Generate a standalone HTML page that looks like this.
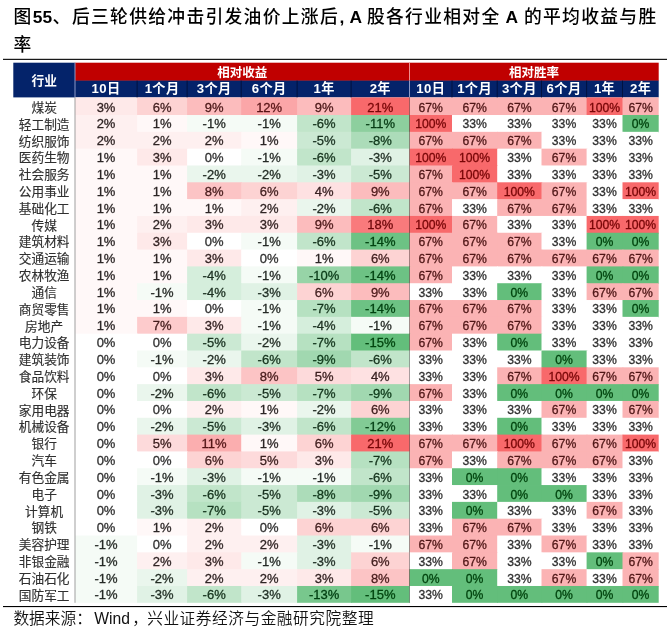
<!DOCTYPE html>
<html lang="zh"><head><meta charset="utf-8"><title>图55</title>
<style>
html,body{margin:0;padding:0;background:#fff;}
body{width:671px;height:631px;overflow:hidden;}
svg{display:block;font-family:"Liberation Sans","Noto Sans CJK SC",sans-serif;}
.t{font-size:17.8px;font-weight:500;fill:#000;}
.tb{font-size:17.4px;font-weight:bold;fill:#000;}
.c{font-size:12.2px;fill:#303030;stroke:#303030;stroke-width:0.3px;text-anchor:middle;}
.c.l{font-size:13px;}
.n{font-size:12.7px;fill:#303030;stroke:#303030;stroke-width:0.15px;text-anchor:middle;}
.h{font-size:12.5px;font-weight:bold;fill:#fff;text-anchor:middle;}
.s{font-size:15.7px;font-weight:350;fill:#111;}
</style></head><body>
<svg width="671" height="631" viewBox="0 0 671 631">
<rect x="0" y="0" width="671" height="631" fill="#fff"/>
<text class="t" x="13.6" y="22.6">图</text>
<text class="tb" x="32.8" y="22.6">55</text>
<text class="t" x="52.5" y="22.6">、</text>
<text class="t" x="71.9" y="22.6" letter-spacing="1.3">后三轮供给冲击引发油价上涨后</text>
<text class="tb" x="339.5" y="22.6">,</text>
<text class="tb" x="349.6" y="22.6">A</text>
<text class="t" x="366.9" y="22.6" letter-spacing="1.3">股各行业相对全</text>
<text class="tb" x="505.6" y="22.6">A</text>
<text class="t" x="523.9" y="22.6" letter-spacing="1.3">的平均收益与胜</text>
<text class="t" x="13.6" y="50.6">率</text>
<rect x="3" y="58.8" width="664" height="1.1" fill="#000"/>
<rect x="3" y="606" width="664" height="1.1" fill="#000"/>
<rect x="13.3" y="62.7" width="61.70" height="34.70" fill="#04236a"/>
<rect x="75" y="62.7" width="583.70" height="18.20" fill="#c00000"/>
<rect x="75" y="80.6" width="583.70" height="16.80" fill="#04236a"/>
<rect x="75" y="97.40" width="62.90" height="18.42" fill="#fee9e9"/>
<rect x="137.1" y="97.40" width="50.80" height="18.42" fill="#fdd3d3"/>
<rect x="187.1" y="97.40" width="54.90" height="18.42" fill="#fcbcbd"/>
<rect x="241.2" y="97.40" width="56.70" height="18.42" fill="#fba6a8"/>
<rect x="297.1" y="97.40" width="54.80" height="18.42" fill="#fcbcbd"/>
<rect x="351.1" y="97.40" width="59.20" height="18.42" fill="#f8696b"/>
<rect x="409.5" y="97.40" width="43.30" height="18.42" fill="#fbb3b4"/>
<rect x="452" y="97.40" width="46.00" height="18.42" fill="#fbb3b4"/>
<rect x="497.2" y="97.40" width="45.10" height="18.42" fill="#fbb3b4"/>
<rect x="541.5" y="97.40" width="45.90" height="18.42" fill="#fbb3b4"/>
<rect x="586.6" y="97.40" width="36.70" height="18.42" fill="#f8696b"/>
<rect x="622.5" y="97.40" width="36.20" height="18.42" fill="#fbb3b4"/>
<rect x="75" y="115.02" width="62.90" height="17.62" fill="#fef0f0"/>
<rect x="137.1" y="115.02" width="50.80" height="17.62" fill="#fff8f8"/>
<rect x="187.1" y="115.02" width="54.90" height="17.62" fill="#f5fbf6"/>
<rect x="241.2" y="115.02" width="56.70" height="17.62" fill="#f5fbf6"/>
<rect x="297.1" y="115.02" width="54.80" height="17.62" fill="#c1e5ca"/>
<rect x="351.1" y="115.02" width="59.20" height="17.62" fill="#8dcf9e"/>
<rect x="409.5" y="115.02" width="43.30" height="17.62" fill="#f8696b"/>
<rect x="452" y="115.02" width="46.00" height="17.62" fill="#ffffff"/>
<rect x="497.2" y="115.02" width="45.10" height="17.62" fill="#ffffff"/>
<rect x="541.5" y="115.02" width="45.90" height="17.62" fill="#ffffff"/>
<rect x="586.6" y="115.02" width="36.70" height="17.62" fill="#ffffff"/>
<rect x="622.5" y="115.02" width="36.20" height="17.62" fill="#63be7b"/>
<rect x="75" y="131.84" width="62.90" height="17.62" fill="#fef0f0"/>
<rect x="137.1" y="131.84" width="50.80" height="17.62" fill="#fef0f0"/>
<rect x="187.1" y="131.84" width="54.90" height="17.62" fill="#fef0f0"/>
<rect x="241.2" y="131.84" width="56.70" height="17.62" fill="#fff8f8"/>
<rect x="297.1" y="131.84" width="54.80" height="17.62" fill="#cbe9d3"/>
<rect x="351.1" y="131.84" width="59.20" height="17.62" fill="#acdcb9"/>
<rect x="409.5" y="131.84" width="43.30" height="17.62" fill="#fbb3b4"/>
<rect x="452" y="131.84" width="46.00" height="17.62" fill="#fbb3b4"/>
<rect x="497.2" y="131.84" width="45.10" height="17.62" fill="#fbb3b4"/>
<rect x="541.5" y="131.84" width="45.90" height="17.62" fill="#ffffff"/>
<rect x="586.6" y="131.84" width="36.70" height="17.62" fill="#ffffff"/>
<rect x="622.5" y="131.84" width="36.20" height="17.62" fill="#ffffff"/>
<rect x="75" y="148.66" width="62.90" height="17.62" fill="#fff8f8"/>
<rect x="137.1" y="148.66" width="50.80" height="17.62" fill="#fee9e9"/>
<rect x="187.1" y="148.66" width="54.90" height="17.62" fill="#ffffff"/>
<rect x="241.2" y="148.66" width="56.70" height="17.62" fill="#f5fbf6"/>
<rect x="297.1" y="148.66" width="54.80" height="17.62" fill="#c1e5ca"/>
<rect x="351.1" y="148.66" width="59.20" height="17.62" fill="#e0f2e5"/>
<rect x="409.5" y="148.66" width="43.30" height="17.62" fill="#f8696b"/>
<rect x="452" y="148.66" width="46.00" height="17.62" fill="#f8696b"/>
<rect x="497.2" y="148.66" width="45.10" height="17.62" fill="#ffffff"/>
<rect x="541.5" y="148.66" width="45.90" height="17.62" fill="#fbb3b4"/>
<rect x="586.6" y="148.66" width="36.70" height="17.62" fill="#ffffff"/>
<rect x="622.5" y="148.66" width="36.20" height="17.62" fill="#ffffff"/>
<rect x="75" y="165.48" width="62.90" height="17.62" fill="#fff8f8"/>
<rect x="137.1" y="165.48" width="50.80" height="17.62" fill="#fff8f8"/>
<rect x="187.1" y="165.48" width="54.90" height="17.62" fill="#eaf6ed"/>
<rect x="241.2" y="165.48" width="56.70" height="17.62" fill="#eaf6ed"/>
<rect x="297.1" y="165.48" width="54.80" height="17.62" fill="#e0f2e5"/>
<rect x="351.1" y="165.48" width="59.20" height="17.62" fill="#cbe9d3"/>
<rect x="409.5" y="165.48" width="43.30" height="17.62" fill="#fbb3b4"/>
<rect x="452" y="165.48" width="46.00" height="17.62" fill="#f8696b"/>
<rect x="497.2" y="165.48" width="45.10" height="17.62" fill="#ffffff"/>
<rect x="541.5" y="165.48" width="45.90" height="17.62" fill="#ffffff"/>
<rect x="586.6" y="165.48" width="36.70" height="17.62" fill="#ffffff"/>
<rect x="622.5" y="165.48" width="36.20" height="17.62" fill="#ffffff"/>
<rect x="75" y="182.30" width="62.90" height="17.62" fill="#fff8f8"/>
<rect x="137.1" y="182.30" width="50.80" height="17.62" fill="#fff8f8"/>
<rect x="187.1" y="182.30" width="54.90" height="17.62" fill="#fcc4c5"/>
<rect x="241.2" y="182.30" width="56.70" height="17.62" fill="#fdd3d3"/>
<rect x="297.1" y="182.30" width="54.80" height="17.62" fill="#fee1e2"/>
<rect x="351.1" y="182.30" width="59.20" height="17.62" fill="#fcbcbd"/>
<rect x="409.5" y="182.30" width="43.30" height="17.62" fill="#fbb3b4"/>
<rect x="452" y="182.30" width="46.00" height="17.62" fill="#fbb3b4"/>
<rect x="497.2" y="182.30" width="45.10" height="17.62" fill="#f8696b"/>
<rect x="541.5" y="182.30" width="45.90" height="17.62" fill="#fbb3b4"/>
<rect x="586.6" y="182.30" width="36.70" height="17.62" fill="#ffffff"/>
<rect x="622.5" y="182.30" width="36.20" height="17.62" fill="#f8696b"/>
<rect x="75" y="199.12" width="62.90" height="17.62" fill="#fff8f8"/>
<rect x="137.1" y="199.12" width="50.80" height="17.62" fill="#fff8f8"/>
<rect x="187.1" y="199.12" width="54.90" height="17.62" fill="#fff8f8"/>
<rect x="241.2" y="199.12" width="56.70" height="17.62" fill="#fef0f0"/>
<rect x="297.1" y="199.12" width="54.80" height="17.62" fill="#eaf6ed"/>
<rect x="351.1" y="199.12" width="59.20" height="17.62" fill="#c1e5ca"/>
<rect x="409.5" y="199.12" width="43.30" height="17.62" fill="#fbb3b4"/>
<rect x="452" y="199.12" width="46.00" height="17.62" fill="#ffffff"/>
<rect x="497.2" y="199.12" width="45.10" height="17.62" fill="#fbb3b4"/>
<rect x="541.5" y="199.12" width="45.90" height="17.62" fill="#fbb3b4"/>
<rect x="586.6" y="199.12" width="36.70" height="17.62" fill="#ffffff"/>
<rect x="622.5" y="199.12" width="36.20" height="17.62" fill="#ffffff"/>
<rect x="75" y="215.94" width="62.90" height="17.62" fill="#fff8f8"/>
<rect x="137.1" y="215.94" width="50.80" height="17.62" fill="#fef0f0"/>
<rect x="187.1" y="215.94" width="54.90" height="17.62" fill="#fee9e9"/>
<rect x="241.2" y="215.94" width="56.70" height="17.62" fill="#fee9e9"/>
<rect x="297.1" y="215.94" width="54.80" height="17.62" fill="#fcbcbd"/>
<rect x="351.1" y="215.94" width="59.20" height="17.62" fill="#f97a7c"/>
<rect x="409.5" y="215.94" width="43.30" height="17.62" fill="#f8696b"/>
<rect x="452" y="215.94" width="46.00" height="17.62" fill="#fbb3b4"/>
<rect x="497.2" y="215.94" width="45.10" height="17.62" fill="#ffffff"/>
<rect x="541.5" y="215.94" width="45.90" height="17.62" fill="#ffffff"/>
<rect x="586.6" y="215.94" width="36.70" height="17.62" fill="#f8696b"/>
<rect x="622.5" y="215.94" width="36.20" height="17.62" fill="#f8696b"/>
<rect x="75" y="232.76" width="62.90" height="17.62" fill="#fff8f8"/>
<rect x="137.1" y="232.76" width="50.80" height="17.62" fill="#fee9e9"/>
<rect x="187.1" y="232.76" width="54.90" height="17.62" fill="#ffffff"/>
<rect x="241.2" y="232.76" width="56.70" height="17.62" fill="#f5fbf6"/>
<rect x="297.1" y="232.76" width="54.80" height="17.62" fill="#c1e5ca"/>
<rect x="351.1" y="232.76" width="59.20" height="17.62" fill="#6dc284"/>
<rect x="409.5" y="232.76" width="43.30" height="17.62" fill="#fbb3b4"/>
<rect x="452" y="232.76" width="46.00" height="17.62" fill="#fbb3b4"/>
<rect x="497.2" y="232.76" width="45.10" height="17.62" fill="#fbb3b4"/>
<rect x="541.5" y="232.76" width="45.90" height="17.62" fill="#ffffff"/>
<rect x="586.6" y="232.76" width="36.70" height="17.62" fill="#63be7b"/>
<rect x="622.5" y="232.76" width="36.20" height="17.62" fill="#63be7b"/>
<rect x="75" y="249.58" width="62.90" height="17.62" fill="#fff8f8"/>
<rect x="137.1" y="249.58" width="50.80" height="17.62" fill="#fff8f8"/>
<rect x="187.1" y="249.58" width="54.90" height="17.62" fill="#fee9e9"/>
<rect x="241.2" y="249.58" width="56.70" height="17.62" fill="#ffffff"/>
<rect x="297.1" y="249.58" width="54.80" height="17.62" fill="#fff8f8"/>
<rect x="351.1" y="249.58" width="59.20" height="17.62" fill="#fdd3d3"/>
<rect x="409.5" y="249.58" width="43.30" height="17.62" fill="#fbb3b4"/>
<rect x="452" y="249.58" width="46.00" height="17.62" fill="#fbb3b4"/>
<rect x="497.2" y="249.58" width="45.10" height="17.62" fill="#fbb3b4"/>
<rect x="541.5" y="249.58" width="45.90" height="17.62" fill="#fbb3b4"/>
<rect x="586.6" y="249.58" width="36.70" height="17.62" fill="#fbb3b4"/>
<rect x="622.5" y="249.58" width="36.20" height="17.62" fill="#fbb3b4"/>
<rect x="75" y="266.40" width="62.90" height="17.62" fill="#fff8f8"/>
<rect x="137.1" y="266.40" width="50.80" height="17.62" fill="#fff8f8"/>
<rect x="187.1" y="266.40" width="54.90" height="17.62" fill="#d5eedc"/>
<rect x="241.2" y="266.40" width="56.70" height="17.62" fill="#f5fbf6"/>
<rect x="297.1" y="266.40" width="54.80" height="17.62" fill="#97d4a7"/>
<rect x="351.1" y="266.40" width="59.20" height="17.62" fill="#6dc284"/>
<rect x="409.5" y="266.40" width="43.30" height="17.62" fill="#fbb3b4"/>
<rect x="452" y="266.40" width="46.00" height="17.62" fill="#ffffff"/>
<rect x="497.2" y="266.40" width="45.10" height="17.62" fill="#ffffff"/>
<rect x="541.5" y="266.40" width="45.90" height="17.62" fill="#ffffff"/>
<rect x="586.6" y="266.40" width="36.70" height="17.62" fill="#63be7b"/>
<rect x="622.5" y="266.40" width="36.20" height="17.62" fill="#63be7b"/>
<rect x="75" y="283.22" width="62.90" height="17.62" fill="#fff8f8"/>
<rect x="137.1" y="283.22" width="50.80" height="17.62" fill="#f5fbf6"/>
<rect x="187.1" y="283.22" width="54.90" height="17.62" fill="#d5eedc"/>
<rect x="241.2" y="283.22" width="56.70" height="17.62" fill="#e0f2e5"/>
<rect x="297.1" y="283.22" width="54.80" height="17.62" fill="#fdd3d3"/>
<rect x="351.1" y="283.22" width="59.20" height="17.62" fill="#fcbcbd"/>
<rect x="409.5" y="283.22" width="43.30" height="17.62" fill="#ffffff"/>
<rect x="452" y="283.22" width="46.00" height="17.62" fill="#ffffff"/>
<rect x="497.2" y="283.22" width="45.10" height="17.62" fill="#63be7b"/>
<rect x="541.5" y="283.22" width="45.90" height="17.62" fill="#ffffff"/>
<rect x="586.6" y="283.22" width="36.70" height="17.62" fill="#fbb3b4"/>
<rect x="622.5" y="283.22" width="36.20" height="17.62" fill="#fbb3b4"/>
<rect x="75" y="300.04" width="62.90" height="17.62" fill="#fff8f8"/>
<rect x="137.1" y="300.04" width="50.80" height="17.62" fill="#fff8f8"/>
<rect x="187.1" y="300.04" width="54.90" height="17.62" fill="#ffffff"/>
<rect x="241.2" y="300.04" width="56.70" height="17.62" fill="#f5fbf6"/>
<rect x="297.1" y="300.04" width="54.80" height="17.62" fill="#b6e1c1"/>
<rect x="351.1" y="300.04" width="59.20" height="17.62" fill="#6dc284"/>
<rect x="409.5" y="300.04" width="43.30" height="17.62" fill="#fbb3b4"/>
<rect x="452" y="300.04" width="46.00" height="17.62" fill="#fbb3b4"/>
<rect x="497.2" y="300.04" width="45.10" height="17.62" fill="#fbb3b4"/>
<rect x="541.5" y="300.04" width="45.90" height="17.62" fill="#ffffff"/>
<rect x="586.6" y="300.04" width="36.70" height="17.62" fill="#ffffff"/>
<rect x="622.5" y="300.04" width="36.20" height="17.62" fill="#63be7b"/>
<rect x="75" y="316.86" width="62.90" height="17.62" fill="#fff8f8"/>
<rect x="137.1" y="316.86" width="50.80" height="17.62" fill="#fdcbcc"/>
<rect x="187.1" y="316.86" width="54.90" height="17.62" fill="#fee9e9"/>
<rect x="241.2" y="316.86" width="56.70" height="17.62" fill="#f5fbf6"/>
<rect x="297.1" y="316.86" width="54.80" height="17.62" fill="#d5eedc"/>
<rect x="351.1" y="316.86" width="59.20" height="17.62" fill="#f5fbf6"/>
<rect x="409.5" y="316.86" width="43.30" height="17.62" fill="#fbb3b4"/>
<rect x="452" y="316.86" width="46.00" height="17.62" fill="#fbb3b4"/>
<rect x="497.2" y="316.86" width="45.10" height="17.62" fill="#fbb3b4"/>
<rect x="541.5" y="316.86" width="45.90" height="17.62" fill="#ffffff"/>
<rect x="586.6" y="316.86" width="36.70" height="17.62" fill="#ffffff"/>
<rect x="622.5" y="316.86" width="36.20" height="17.62" fill="#ffffff"/>
<rect x="75" y="333.68" width="62.90" height="17.62" fill="#ffffff"/>
<rect x="137.1" y="333.68" width="50.80" height="17.62" fill="#ffffff"/>
<rect x="187.1" y="333.68" width="54.90" height="17.62" fill="#cbe9d3"/>
<rect x="241.2" y="333.68" width="56.70" height="17.62" fill="#eaf6ed"/>
<rect x="297.1" y="333.68" width="54.80" height="17.62" fill="#b6e1c1"/>
<rect x="351.1" y="333.68" width="59.20" height="17.62" fill="#63be7b"/>
<rect x="409.5" y="333.68" width="43.30" height="17.62" fill="#fbb3b4"/>
<rect x="452" y="333.68" width="46.00" height="17.62" fill="#ffffff"/>
<rect x="497.2" y="333.68" width="45.10" height="17.62" fill="#63be7b"/>
<rect x="541.5" y="333.68" width="45.90" height="17.62" fill="#ffffff"/>
<rect x="586.6" y="333.68" width="36.70" height="17.62" fill="#ffffff"/>
<rect x="622.5" y="333.68" width="36.20" height="17.62" fill="#ffffff"/>
<rect x="75" y="350.50" width="62.90" height="17.62" fill="#ffffff"/>
<rect x="137.1" y="350.50" width="50.80" height="17.62" fill="#f5fbf6"/>
<rect x="187.1" y="350.50" width="54.90" height="17.62" fill="#eaf6ed"/>
<rect x="241.2" y="350.50" width="56.70" height="17.62" fill="#c1e5ca"/>
<rect x="297.1" y="350.50" width="54.80" height="17.62" fill="#a1d8b0"/>
<rect x="351.1" y="350.50" width="59.20" height="17.62" fill="#c1e5ca"/>
<rect x="409.5" y="350.50" width="43.30" height="17.62" fill="#ffffff"/>
<rect x="452" y="350.50" width="46.00" height="17.62" fill="#ffffff"/>
<rect x="497.2" y="350.50" width="45.10" height="17.62" fill="#ffffff"/>
<rect x="541.5" y="350.50" width="45.90" height="17.62" fill="#63be7b"/>
<rect x="586.6" y="350.50" width="36.70" height="17.62" fill="#ffffff"/>
<rect x="622.5" y="350.50" width="36.20" height="17.62" fill="#ffffff"/>
<rect x="75" y="367.32" width="62.90" height="17.62" fill="#ffffff"/>
<rect x="137.1" y="367.32" width="50.80" height="17.62" fill="#ffffff"/>
<rect x="187.1" y="367.32" width="54.90" height="17.62" fill="#fee9e9"/>
<rect x="241.2" y="367.32" width="56.70" height="17.62" fill="#fcc4c5"/>
<rect x="297.1" y="367.32" width="54.80" height="17.62" fill="#fddadb"/>
<rect x="351.1" y="367.32" width="59.20" height="17.62" fill="#fee1e2"/>
<rect x="409.5" y="367.32" width="43.30" height="17.62" fill="#ffffff"/>
<rect x="452" y="367.32" width="46.00" height="17.62" fill="#ffffff"/>
<rect x="497.2" y="367.32" width="45.10" height="17.62" fill="#fbb3b4"/>
<rect x="541.5" y="367.32" width="45.90" height="17.62" fill="#f8696b"/>
<rect x="586.6" y="367.32" width="36.70" height="17.62" fill="#fbb3b4"/>
<rect x="622.5" y="367.32" width="36.20" height="17.62" fill="#fbb3b4"/>
<rect x="75" y="384.14" width="62.90" height="17.62" fill="#ffffff"/>
<rect x="137.1" y="384.14" width="50.80" height="17.62" fill="#eaf6ed"/>
<rect x="187.1" y="384.14" width="54.90" height="17.62" fill="#c1e5ca"/>
<rect x="241.2" y="384.14" width="56.70" height="17.62" fill="#cbe9d3"/>
<rect x="297.1" y="384.14" width="54.80" height="17.62" fill="#b6e1c1"/>
<rect x="351.1" y="384.14" width="59.20" height="17.62" fill="#a1d8b0"/>
<rect x="409.5" y="384.14" width="43.30" height="17.62" fill="#fbb3b4"/>
<rect x="452" y="384.14" width="46.00" height="17.62" fill="#ffffff"/>
<rect x="497.2" y="384.14" width="45.10" height="17.62" fill="#63be7b"/>
<rect x="541.5" y="384.14" width="45.90" height="17.62" fill="#63be7b"/>
<rect x="586.6" y="384.14" width="36.70" height="17.62" fill="#63be7b"/>
<rect x="622.5" y="384.14" width="36.20" height="17.62" fill="#63be7b"/>
<rect x="75" y="400.96" width="62.90" height="17.62" fill="#ffffff"/>
<rect x="137.1" y="400.96" width="50.80" height="17.62" fill="#ffffff"/>
<rect x="187.1" y="400.96" width="54.90" height="17.62" fill="#fef0f0"/>
<rect x="241.2" y="400.96" width="56.70" height="17.62" fill="#fff8f8"/>
<rect x="297.1" y="400.96" width="54.80" height="17.62" fill="#eaf6ed"/>
<rect x="351.1" y="400.96" width="59.20" height="17.62" fill="#fdd3d3"/>
<rect x="409.5" y="400.96" width="43.30" height="17.62" fill="#ffffff"/>
<rect x="452" y="400.96" width="46.00" height="17.62" fill="#ffffff"/>
<rect x="497.2" y="400.96" width="45.10" height="17.62" fill="#ffffff"/>
<rect x="541.5" y="400.96" width="45.90" height="17.62" fill="#fbb3b4"/>
<rect x="586.6" y="400.96" width="36.70" height="17.62" fill="#ffffff"/>
<rect x="622.5" y="400.96" width="36.20" height="17.62" fill="#fbb3b4"/>
<rect x="75" y="417.78" width="62.90" height="17.62" fill="#ffffff"/>
<rect x="137.1" y="417.78" width="50.80" height="17.62" fill="#eaf6ed"/>
<rect x="187.1" y="417.78" width="54.90" height="17.62" fill="#cbe9d3"/>
<rect x="241.2" y="417.78" width="56.70" height="17.62" fill="#e0f2e5"/>
<rect x="297.1" y="417.78" width="54.80" height="17.62" fill="#c1e5ca"/>
<rect x="351.1" y="417.78" width="59.20" height="17.62" fill="#82cb95"/>
<rect x="409.5" y="417.78" width="43.30" height="17.62" fill="#ffffff"/>
<rect x="452" y="417.78" width="46.00" height="17.62" fill="#ffffff"/>
<rect x="497.2" y="417.78" width="45.10" height="17.62" fill="#63be7b"/>
<rect x="541.5" y="417.78" width="45.90" height="17.62" fill="#ffffff"/>
<rect x="586.6" y="417.78" width="36.70" height="17.62" fill="#ffffff"/>
<rect x="622.5" y="417.78" width="36.20" height="17.62" fill="#ffffff"/>
<rect x="75" y="434.60" width="62.90" height="17.62" fill="#ffffff"/>
<rect x="137.1" y="434.60" width="50.80" height="17.62" fill="#fddadb"/>
<rect x="187.1" y="434.60" width="54.90" height="17.62" fill="#fbaeaf"/>
<rect x="241.2" y="434.60" width="56.70" height="17.62" fill="#fff8f8"/>
<rect x="297.1" y="434.60" width="54.80" height="17.62" fill="#fdd3d3"/>
<rect x="351.1" y="434.60" width="59.20" height="17.62" fill="#f8696b"/>
<rect x="409.5" y="434.60" width="43.30" height="17.62" fill="#fbb3b4"/>
<rect x="452" y="434.60" width="46.00" height="17.62" fill="#fbb3b4"/>
<rect x="497.2" y="434.60" width="45.10" height="17.62" fill="#f8696b"/>
<rect x="541.5" y="434.60" width="45.90" height="17.62" fill="#fbb3b4"/>
<rect x="586.6" y="434.60" width="36.70" height="17.62" fill="#fbb3b4"/>
<rect x="622.5" y="434.60" width="36.20" height="17.62" fill="#f8696b"/>
<rect x="75" y="451.42" width="62.90" height="17.62" fill="#ffffff"/>
<rect x="137.1" y="451.42" width="50.80" height="17.62" fill="#ffffff"/>
<rect x="187.1" y="451.42" width="54.90" height="17.62" fill="#fdd3d3"/>
<rect x="241.2" y="451.42" width="56.70" height="17.62" fill="#fddadb"/>
<rect x="297.1" y="451.42" width="54.80" height="17.62" fill="#fee9e9"/>
<rect x="351.1" y="451.42" width="59.20" height="17.62" fill="#b6e1c1"/>
<rect x="409.5" y="451.42" width="43.30" height="17.62" fill="#fbb3b4"/>
<rect x="452" y="451.42" width="46.00" height="17.62" fill="#ffffff"/>
<rect x="497.2" y="451.42" width="45.10" height="17.62" fill="#fbb3b4"/>
<rect x="541.5" y="451.42" width="45.90" height="17.62" fill="#fbb3b4"/>
<rect x="586.6" y="451.42" width="36.70" height="17.62" fill="#fbb3b4"/>
<rect x="622.5" y="451.42" width="36.20" height="17.62" fill="#ffffff"/>
<rect x="75" y="468.24" width="62.90" height="17.62" fill="#ffffff"/>
<rect x="137.1" y="468.24" width="50.80" height="17.62" fill="#f5fbf6"/>
<rect x="187.1" y="468.24" width="54.90" height="17.62" fill="#e0f2e5"/>
<rect x="241.2" y="468.24" width="56.70" height="17.62" fill="#f5fbf6"/>
<rect x="297.1" y="468.24" width="54.80" height="17.62" fill="#f5fbf6"/>
<rect x="351.1" y="468.24" width="59.20" height="17.62" fill="#c1e5ca"/>
<rect x="409.5" y="468.24" width="43.30" height="17.62" fill="#ffffff"/>
<rect x="452" y="468.24" width="46.00" height="17.62" fill="#63be7b"/>
<rect x="497.2" y="468.24" width="45.10" height="17.62" fill="#63be7b"/>
<rect x="541.5" y="468.24" width="45.90" height="17.62" fill="#ffffff"/>
<rect x="586.6" y="468.24" width="36.70" height="17.62" fill="#ffffff"/>
<rect x="622.5" y="468.24" width="36.20" height="17.62" fill="#ffffff"/>
<rect x="75" y="485.06" width="62.90" height="17.62" fill="#ffffff"/>
<rect x="137.1" y="485.06" width="50.80" height="17.62" fill="#e0f2e5"/>
<rect x="187.1" y="485.06" width="54.90" height="17.62" fill="#c1e5ca"/>
<rect x="241.2" y="485.06" width="56.70" height="17.62" fill="#cbe9d3"/>
<rect x="297.1" y="485.06" width="54.80" height="17.62" fill="#acdcb9"/>
<rect x="351.1" y="485.06" width="59.20" height="17.62" fill="#a1d8b0"/>
<rect x="409.5" y="485.06" width="43.30" height="17.62" fill="#ffffff"/>
<rect x="452" y="485.06" width="46.00" height="17.62" fill="#ffffff"/>
<rect x="497.2" y="485.06" width="45.10" height="17.62" fill="#63be7b"/>
<rect x="541.5" y="485.06" width="45.90" height="17.62" fill="#63be7b"/>
<rect x="586.6" y="485.06" width="36.70" height="17.62" fill="#ffffff"/>
<rect x="622.5" y="485.06" width="36.20" height="17.62" fill="#ffffff"/>
<rect x="75" y="501.88" width="62.90" height="17.62" fill="#ffffff"/>
<rect x="137.1" y="501.88" width="50.80" height="17.62" fill="#e0f2e5"/>
<rect x="187.1" y="501.88" width="54.90" height="17.62" fill="#b6e1c1"/>
<rect x="241.2" y="501.88" width="56.70" height="17.62" fill="#cbe9d3"/>
<rect x="297.1" y="501.88" width="54.80" height="17.62" fill="#e0f2e5"/>
<rect x="351.1" y="501.88" width="59.20" height="17.62" fill="#cbe9d3"/>
<rect x="409.5" y="501.88" width="43.30" height="17.62" fill="#ffffff"/>
<rect x="452" y="501.88" width="46.00" height="17.62" fill="#63be7b"/>
<rect x="497.2" y="501.88" width="45.10" height="17.62" fill="#ffffff"/>
<rect x="541.5" y="501.88" width="45.90" height="17.62" fill="#ffffff"/>
<rect x="586.6" y="501.88" width="36.70" height="17.62" fill="#fbb3b4"/>
<rect x="622.5" y="501.88" width="36.20" height="17.62" fill="#ffffff"/>
<rect x="75" y="518.70" width="62.90" height="17.62" fill="#ffffff"/>
<rect x="137.1" y="518.70" width="50.80" height="17.62" fill="#fff8f8"/>
<rect x="187.1" y="518.70" width="54.90" height="17.62" fill="#fef0f0"/>
<rect x="241.2" y="518.70" width="56.70" height="17.62" fill="#ffffff"/>
<rect x="297.1" y="518.70" width="54.80" height="17.62" fill="#fdd3d3"/>
<rect x="351.1" y="518.70" width="59.20" height="17.62" fill="#fdd3d3"/>
<rect x="409.5" y="518.70" width="43.30" height="17.62" fill="#ffffff"/>
<rect x="452" y="518.70" width="46.00" height="17.62" fill="#fbb3b4"/>
<rect x="497.2" y="518.70" width="45.10" height="17.62" fill="#fbb3b4"/>
<rect x="541.5" y="518.70" width="45.90" height="17.62" fill="#ffffff"/>
<rect x="586.6" y="518.70" width="36.70" height="17.62" fill="#ffffff"/>
<rect x="622.5" y="518.70" width="36.20" height="17.62" fill="#ffffff"/>
<rect x="75" y="535.52" width="62.90" height="17.62" fill="#f5fbf6"/>
<rect x="137.1" y="535.52" width="50.80" height="17.62" fill="#ffffff"/>
<rect x="187.1" y="535.52" width="54.90" height="17.62" fill="#fef0f0"/>
<rect x="241.2" y="535.52" width="56.70" height="17.62" fill="#fef0f0"/>
<rect x="297.1" y="535.52" width="54.80" height="17.62" fill="#e0f2e5"/>
<rect x="351.1" y="535.52" width="59.20" height="17.62" fill="#f5fbf6"/>
<rect x="409.5" y="535.52" width="43.30" height="17.62" fill="#fbb3b4"/>
<rect x="452" y="535.52" width="46.00" height="17.62" fill="#fbb3b4"/>
<rect x="497.2" y="535.52" width="45.10" height="17.62" fill="#ffffff"/>
<rect x="541.5" y="535.52" width="45.90" height="17.62" fill="#fbb3b4"/>
<rect x="586.6" y="535.52" width="36.70" height="17.62" fill="#ffffff"/>
<rect x="622.5" y="535.52" width="36.20" height="17.62" fill="#ffffff"/>
<rect x="75" y="552.34" width="62.90" height="17.62" fill="#f5fbf6"/>
<rect x="137.1" y="552.34" width="50.80" height="17.62" fill="#fef0f0"/>
<rect x="187.1" y="552.34" width="54.90" height="17.62" fill="#fee9e9"/>
<rect x="241.2" y="552.34" width="56.70" height="17.62" fill="#f5fbf6"/>
<rect x="297.1" y="552.34" width="54.80" height="17.62" fill="#e0f2e5"/>
<rect x="351.1" y="552.34" width="59.20" height="17.62" fill="#fdd3d3"/>
<rect x="409.5" y="552.34" width="43.30" height="17.62" fill="#ffffff"/>
<rect x="452" y="552.34" width="46.00" height="17.62" fill="#fbb3b4"/>
<rect x="497.2" y="552.34" width="45.10" height="17.62" fill="#ffffff"/>
<rect x="541.5" y="552.34" width="45.90" height="17.62" fill="#ffffff"/>
<rect x="586.6" y="552.34" width="36.70" height="17.62" fill="#63be7b"/>
<rect x="622.5" y="552.34" width="36.20" height="17.62" fill="#fbb3b4"/>
<rect x="75" y="569.16" width="62.90" height="17.62" fill="#f5fbf6"/>
<rect x="137.1" y="569.16" width="50.80" height="17.62" fill="#eaf6ed"/>
<rect x="187.1" y="569.16" width="54.90" height="17.62" fill="#fef0f0"/>
<rect x="241.2" y="569.16" width="56.70" height="17.62" fill="#fef0f0"/>
<rect x="297.1" y="569.16" width="54.80" height="17.62" fill="#fee9e9"/>
<rect x="351.1" y="569.16" width="59.20" height="17.62" fill="#fcc4c5"/>
<rect x="409.5" y="569.16" width="43.30" height="17.62" fill="#63be7b"/>
<rect x="452" y="569.16" width="46.00" height="17.62" fill="#63be7b"/>
<rect x="497.2" y="569.16" width="45.10" height="17.62" fill="#ffffff"/>
<rect x="541.5" y="569.16" width="45.90" height="17.62" fill="#fbb3b4"/>
<rect x="586.6" y="569.16" width="36.70" height="17.62" fill="#ffffff"/>
<rect x="622.5" y="569.16" width="36.20" height="17.62" fill="#fbb3b4"/>
<rect x="75" y="585.98" width="62.90" height="16.82" fill="#f5fbf6"/>
<rect x="137.1" y="585.98" width="50.80" height="16.82" fill="#e0f2e5"/>
<rect x="187.1" y="585.98" width="54.90" height="16.82" fill="#c1e5ca"/>
<rect x="241.2" y="585.98" width="56.70" height="16.82" fill="#e0f2e5"/>
<rect x="297.1" y="585.98" width="54.80" height="16.82" fill="#78c78d"/>
<rect x="351.1" y="585.98" width="59.20" height="16.82" fill="#63be7b"/>
<rect x="409.5" y="585.98" width="43.30" height="16.82" fill="#ffffff"/>
<rect x="452" y="585.98" width="46.00" height="16.82" fill="#63be7b"/>
<rect x="497.2" y="585.98" width="45.10" height="16.82" fill="#63be7b"/>
<rect x="541.5" y="585.98" width="45.90" height="16.82" fill="#63be7b"/>
<rect x="586.6" y="585.98" width="36.70" height="16.82" fill="#63be7b"/>
<rect x="622.5" y="585.98" width="36.20" height="16.82" fill="#63be7b"/>
<rect x="136.60" y="80.6" width="1" height="16.80" fill="#001240"/>
<rect x="186.60" y="80.6" width="1" height="16.80" fill="#001240"/>
<rect x="240.70" y="80.6" width="1" height="16.80" fill="#001240"/>
<rect x="296.60" y="80.6" width="1" height="16.80" fill="#001240"/>
<rect x="350.60" y="80.6" width="1" height="16.80" fill="#001240"/>
<rect x="451.50" y="80.6" width="1" height="16.80" fill="#001240"/>
<rect x="496.70" y="80.6" width="1" height="16.80" fill="#001240"/>
<rect x="541.00" y="80.6" width="1" height="16.80" fill="#001240"/>
<rect x="586.10" y="80.6" width="1" height="16.80" fill="#001240"/>
<rect x="622.00" y="80.6" width="1" height="16.80" fill="#001240"/>
<rect x="74.50" y="62.7" width="1" height="34.70" fill="#8c9ac8"/>
<rect x="409.00" y="62.7" width="1" height="17.90" fill="#f09090"/>
<rect x="409.00" y="80.6" width="1" height="16.80" fill="#8c9ac8"/>
<rect x="74.50" y="97.4" width="1" height="505.40" fill="#a0a0a0"/>
<rect x="409.00" y="97.4" width="1" height="505.40" fill="#000" fill-opacity="0.35"/>
<text class="h" style="font-size:12.7px" x="44.15" y="84.9">行业</text>
<text class="h" x="242.25" y="76.6">相对收益</text>
<text class="h" x="534.10" y="76.6">相对胜率</text>
<text class="h" x="106.05" y="93.4" style="font-size:13.2px;letter-spacing:0.4px">10日</text>
<text class="h" x="162.10" y="93.4" style="font-size:13.2px;letter-spacing:0.4px">1个月</text>
<text class="h" x="214.15" y="93.4" style="font-size:13.2px;letter-spacing:0.4px">3个月</text>
<text class="h" x="269.15" y="93.4" style="font-size:13.2px;letter-spacing:0.4px">6个月</text>
<text class="h" x="324.10" y="93.4" style="font-size:13.2px;letter-spacing:0.4px">1年</text>
<text class="h" x="380.30" y="93.4" style="font-size:13.2px;letter-spacing:0.4px">2年</text>
<text class="h" x="430.75" y="93.4" style="font-size:13.2px;letter-spacing:0.4px">10日</text>
<text class="h" x="474.60" y="93.4" style="font-size:13.2px;letter-spacing:0.4px">1个月</text>
<text class="h" x="519.35" y="93.4" style="font-size:13.2px;letter-spacing:0.4px">3个月</text>
<text class="h" x="564.05" y="93.4" style="font-size:13.2px;letter-spacing:0.4px">6个月</text>
<text class="h" x="604.55" y="93.4" style="font-size:13.2px;letter-spacing:0.4px">1年</text>
<text class="h" x="640.60" y="93.4" style="font-size:13.2px;letter-spacing:0.4px">2年</text>
<text class="n" x="44.15" y="111.90">煤炭</text>
<text class="c l" style="fill:#342323;stroke:#342323" x="106.05" y="111.65">3%</text>
<text class="c l" style="fill:#401e1e;stroke:#401e1e" x="162.10" y="111.65">6%</text>
<text class="c l" style="fill:#4c1919;stroke:#4c1919" x="214.15" y="111.65">9%</text>
<text class="c l" style="fill:#571315;stroke:#571315" x="269.15" y="111.65">12%</text>
<text class="c l" style="fill:#4c1919;stroke:#4c1919" x="324.10" y="111.65">9%</text>
<text class="c l" style="fill:#780607;stroke:#780607" x="380.30" y="111.65">21%</text>
<text class="c" style="fill:#501717;stroke:#501717" x="430.75" y="111.65">67%</text>
<text class="c" style="fill:#501717;stroke:#501717" x="474.60" y="111.65">67%</text>
<text class="c" style="fill:#501717;stroke:#501717" x="519.35" y="111.65">67%</text>
<text class="c" style="fill:#501717;stroke:#501717" x="564.05" y="111.65">67%</text>
<text class="c" style="fill:#780607;stroke:#780607" x="604.55" y="111.65">100%</text>
<text class="c" style="fill:#501717;stroke:#501717" x="640.60" y="111.65">67%</text>
<text class="n" x="44.15" y="128.72">轻工制造</text>
<text class="c l" style="fill:#302525;stroke:#302525" x="106.05" y="128.47">2%</text>
<text class="c l" style="fill:#2c2626;stroke:#2c2626" x="162.10" y="128.47">1%</text>
<text class="c l" style="fill:#252a26;stroke:#252a26" x="214.15" y="128.47">-1%</text>
<text class="c l" style="fill:#252a26;stroke:#252a26" x="269.15" y="128.47">-1%</text>
<text class="c l" style="fill:#16331d;stroke:#16331d" x="324.10" y="128.47">-6%</text>
<text class="c l" style="fill:#073c15;stroke:#073c15" x="380.30" y="128.47">-11%</text>
<text class="c" style="fill:#780607;stroke:#780607" x="430.75" y="128.47">100%</text>
<text class="c" x="474.60" y="128.47">33%</text>
<text class="c" x="519.35" y="128.47">33%</text>
<text class="c" x="564.05" y="128.47">33%</text>
<text class="c" x="604.55" y="128.47">33%</text>
<text class="c" style="fill:#00440e;stroke:#00440e" x="640.60" y="128.47">0%</text>
<text class="n" x="44.15" y="145.54">纺织服饰</text>
<text class="c l" style="fill:#302525;stroke:#302525" x="106.05" y="145.29">2%</text>
<text class="c l" style="fill:#302525;stroke:#302525" x="162.10" y="145.29">2%</text>
<text class="c l" style="fill:#302525;stroke:#302525" x="214.15" y="145.29">2%</text>
<text class="c l" style="fill:#2c2626;stroke:#2c2626" x="269.15" y="145.29">1%</text>
<text class="c l" style="fill:#193120;stroke:#193120" x="324.10" y="145.29">-5%</text>
<text class="c l" style="fill:#10371b;stroke:#10371b" x="380.30" y="145.29">-8%</text>
<text class="c" style="fill:#501717;stroke:#501717" x="430.75" y="145.29">67%</text>
<text class="c" style="fill:#501717;stroke:#501717" x="474.60" y="145.29">67%</text>
<text class="c" style="fill:#501717;stroke:#501717" x="519.35" y="145.29">67%</text>
<text class="c" x="564.05" y="145.29">33%</text>
<text class="c" x="604.55" y="145.29">33%</text>
<text class="c" x="640.60" y="145.29">33%</text>
<text class="n" x="44.15" y="162.36">医药生物</text>
<text class="c l" style="fill:#2c2626;stroke:#2c2626" x="106.05" y="162.11">1%</text>
<text class="c l" style="fill:#342323;stroke:#342323" x="162.10" y="162.11">3%</text>
<text class="c l" x="214.15" y="162.11">0%</text>
<text class="c l" style="fill:#252a26;stroke:#252a26" x="269.15" y="162.11">-1%</text>
<text class="c l" style="fill:#16331d;stroke:#16331d" x="324.10" y="162.11">-6%</text>
<text class="c l" style="fill:#1f2d23;stroke:#1f2d23" x="380.30" y="162.11">-3%</text>
<text class="c" style="fill:#780607;stroke:#780607" x="430.75" y="162.11">100%</text>
<text class="c" style="fill:#780607;stroke:#780607" x="474.60" y="162.11">100%</text>
<text class="c" x="519.35" y="162.11">33%</text>
<text class="c" style="fill:#501717;stroke:#501717" x="564.05" y="162.11">67%</text>
<text class="c" x="604.55" y="162.11">33%</text>
<text class="c" x="640.60" y="162.11">33%</text>
<text class="n" x="44.15" y="179.18">社会服务</text>
<text class="c l" style="fill:#2c2626;stroke:#2c2626" x="106.05" y="178.93">1%</text>
<text class="c l" style="fill:#2c2626;stroke:#2c2626" x="162.10" y="178.93">1%</text>
<text class="c l" style="fill:#222c24;stroke:#222c24" x="214.15" y="178.93">-2%</text>
<text class="c l" style="fill:#222c24;stroke:#222c24" x="269.15" y="178.93">-2%</text>
<text class="c l" style="fill:#1f2d23;stroke:#1f2d23" x="324.10" y="178.93">-3%</text>
<text class="c l" style="fill:#193120;stroke:#193120" x="380.30" y="178.93">-5%</text>
<text class="c" style="fill:#501717;stroke:#501717" x="430.75" y="178.93">67%</text>
<text class="c" style="fill:#780607;stroke:#780607" x="474.60" y="178.93">100%</text>
<text class="c" x="519.35" y="178.93">33%</text>
<text class="c" x="564.05" y="178.93">33%</text>
<text class="c" x="604.55" y="178.93">33%</text>
<text class="c" x="640.60" y="178.93">33%</text>
<text class="n" x="44.15" y="196.00">公用事业</text>
<text class="c l" style="fill:#2c2626;stroke:#2c2626" x="106.05" y="195.75">1%</text>
<text class="c l" style="fill:#2c2626;stroke:#2c2626" x="162.10" y="195.75">1%</text>
<text class="c l" style="fill:#471b1b;stroke:#471b1b" x="214.15" y="195.75">8%</text>
<text class="c l" style="fill:#401e1e;stroke:#401e1e" x="269.15" y="195.75">6%</text>
<text class="c l" style="fill:#382122;stroke:#382122" x="324.10" y="195.75">4%</text>
<text class="c l" style="fill:#4c1919;stroke:#4c1919" x="380.30" y="195.75">9%</text>
<text class="c" style="fill:#501717;stroke:#501717" x="430.75" y="195.75">67%</text>
<text class="c" style="fill:#501717;stroke:#501717" x="474.60" y="195.75">67%</text>
<text class="c" style="fill:#780607;stroke:#780607" x="519.35" y="195.75">100%</text>
<text class="c" style="fill:#501717;stroke:#501717" x="564.05" y="195.75">67%</text>
<text class="c" x="604.55" y="195.75">33%</text>
<text class="c" style="fill:#780607;stroke:#780607" x="640.60" y="195.75">100%</text>
<text class="n" x="44.15" y="212.82">基础化工</text>
<text class="c l" style="fill:#2c2626;stroke:#2c2626" x="106.05" y="212.57">1%</text>
<text class="c l" style="fill:#2c2626;stroke:#2c2626" x="162.10" y="212.57">1%</text>
<text class="c l" style="fill:#2c2626;stroke:#2c2626" x="214.15" y="212.57">1%</text>
<text class="c l" style="fill:#302525;stroke:#302525" x="269.15" y="212.57">2%</text>
<text class="c l" style="fill:#222c24;stroke:#222c24" x="324.10" y="212.57">-2%</text>
<text class="c l" style="fill:#16331d;stroke:#16331d" x="380.30" y="212.57">-6%</text>
<text class="c" style="fill:#501717;stroke:#501717" x="430.75" y="212.57">67%</text>
<text class="c" x="474.60" y="212.57">33%</text>
<text class="c" style="fill:#501717;stroke:#501717" x="519.35" y="212.57">67%</text>
<text class="c" style="fill:#501717;stroke:#501717" x="564.05" y="212.57">67%</text>
<text class="c" x="604.55" y="212.57">33%</text>
<text class="c" x="640.60" y="212.57">33%</text>
<text class="n" x="44.15" y="229.64">传媒</text>
<text class="c l" style="fill:#2c2626;stroke:#2c2626" x="106.05" y="229.39">1%</text>
<text class="c l" style="fill:#302525;stroke:#302525" x="162.10" y="229.39">2%</text>
<text class="c l" style="fill:#342323;stroke:#342323" x="214.15" y="229.39">3%</text>
<text class="c l" style="fill:#342323;stroke:#342323" x="269.15" y="229.39">3%</text>
<text class="c l" style="fill:#4c1919;stroke:#4c1919" x="324.10" y="229.39">9%</text>
<text class="c l" style="fill:#6f090b;stroke:#6f090b" x="380.30" y="229.39">18%</text>
<text class="c" style="fill:#780607;stroke:#780607" x="430.75" y="229.39">100%</text>
<text class="c" style="fill:#501717;stroke:#501717" x="474.60" y="229.39">67%</text>
<text class="c" x="519.35" y="229.39">33%</text>
<text class="c" x="564.05" y="229.39">33%</text>
<text class="c" style="fill:#780607;stroke:#780607" x="604.55" y="229.39">100%</text>
<text class="c" style="fill:#780607;stroke:#780607" x="640.60" y="229.39">100%</text>
<text class="n" x="44.15" y="246.46">建筑材料</text>
<text class="c l" style="fill:#2c2626;stroke:#2c2626" x="106.05" y="246.21">1%</text>
<text class="c l" style="fill:#342323;stroke:#342323" x="162.10" y="246.21">3%</text>
<text class="c l" x="214.15" y="246.21">0%</text>
<text class="c l" style="fill:#252a26;stroke:#252a26" x="269.15" y="246.21">-1%</text>
<text class="c l" style="fill:#16331d;stroke:#16331d" x="324.10" y="246.21">-6%</text>
<text class="c l" style="fill:#004210;stroke:#004210" x="380.30" y="246.21">-14%</text>
<text class="c" style="fill:#501717;stroke:#501717" x="430.75" y="246.21">67%</text>
<text class="c" style="fill:#501717;stroke:#501717" x="474.60" y="246.21">67%</text>
<text class="c" style="fill:#501717;stroke:#501717" x="519.35" y="246.21">67%</text>
<text class="c" x="564.05" y="246.21">33%</text>
<text class="c" style="fill:#00440e;stroke:#00440e" x="604.55" y="246.21">0%</text>
<text class="c" style="fill:#00440e;stroke:#00440e" x="640.60" y="246.21">0%</text>
<text class="n" x="44.15" y="263.28">交通运输</text>
<text class="c l" style="fill:#2c2626;stroke:#2c2626" x="106.05" y="263.03">1%</text>
<text class="c l" style="fill:#2c2626;stroke:#2c2626" x="162.10" y="263.03">1%</text>
<text class="c l" style="fill:#342323;stroke:#342323" x="214.15" y="263.03">3%</text>
<text class="c l" x="269.15" y="263.03">0%</text>
<text class="c l" style="fill:#2c2626;stroke:#2c2626" x="324.10" y="263.03">1%</text>
<text class="c l" style="fill:#401e1e;stroke:#401e1e" x="380.30" y="263.03">6%</text>
<text class="c" style="fill:#501717;stroke:#501717" x="430.75" y="263.03">67%</text>
<text class="c" style="fill:#501717;stroke:#501717" x="474.60" y="263.03">67%</text>
<text class="c" style="fill:#501717;stroke:#501717" x="519.35" y="263.03">67%</text>
<text class="c" style="fill:#501717;stroke:#501717" x="564.05" y="263.03">67%</text>
<text class="c" style="fill:#501717;stroke:#501717" x="604.55" y="263.03">67%</text>
<text class="c" style="fill:#501717;stroke:#501717" x="640.60" y="263.03">67%</text>
<text class="n" x="44.15" y="280.10">农林牧渔</text>
<text class="c l" style="fill:#2c2626;stroke:#2c2626" x="106.05" y="279.85">1%</text>
<text class="c l" style="fill:#2c2626;stroke:#2c2626" x="162.10" y="279.85">1%</text>
<text class="c l" style="fill:#1c3021;stroke:#1c3021" x="214.15" y="279.85">-4%</text>
<text class="c l" style="fill:#252a26;stroke:#252a26" x="269.15" y="279.85">-1%</text>
<text class="c l" style="fill:#0a3b17;stroke:#0a3b17" x="324.10" y="279.85">-10%</text>
<text class="c l" style="fill:#004210;stroke:#004210" x="380.30" y="279.85">-14%</text>
<text class="c" style="fill:#501717;stroke:#501717" x="430.75" y="279.85">67%</text>
<text class="c" x="474.60" y="279.85">33%</text>
<text class="c" x="519.35" y="279.85">33%</text>
<text class="c" x="564.05" y="279.85">33%</text>
<text class="c" style="fill:#00440e;stroke:#00440e" x="604.55" y="279.85">0%</text>
<text class="c" style="fill:#00440e;stroke:#00440e" x="640.60" y="279.85">0%</text>
<text class="n" x="44.15" y="296.92">通信</text>
<text class="c l" style="fill:#2c2626;stroke:#2c2626" x="106.05" y="296.67">1%</text>
<text class="c l" style="fill:#252a26;stroke:#252a26" x="162.10" y="296.67">-1%</text>
<text class="c l" style="fill:#1c3021;stroke:#1c3021" x="214.15" y="296.67">-4%</text>
<text class="c l" style="fill:#1f2d23;stroke:#1f2d23" x="269.15" y="296.67">-3%</text>
<text class="c l" style="fill:#401e1e;stroke:#401e1e" x="324.10" y="296.67">6%</text>
<text class="c l" style="fill:#4c1919;stroke:#4c1919" x="380.30" y="296.67">9%</text>
<text class="c" x="430.75" y="296.67">33%</text>
<text class="c" x="474.60" y="296.67">33%</text>
<text class="c" style="fill:#00440e;stroke:#00440e" x="519.35" y="296.67">0%</text>
<text class="c" x="564.05" y="296.67">33%</text>
<text class="c" style="fill:#501717;stroke:#501717" x="604.55" y="296.67">67%</text>
<text class="c" style="fill:#501717;stroke:#501717" x="640.60" y="296.67">67%</text>
<text class="n" x="44.15" y="313.74">商贸零售</text>
<text class="c l" style="fill:#2c2626;stroke:#2c2626" x="106.05" y="313.49">1%</text>
<text class="c l" style="fill:#2c2626;stroke:#2c2626" x="162.10" y="313.49">1%</text>
<text class="c l" x="214.15" y="313.49">0%</text>
<text class="c l" style="fill:#252a26;stroke:#252a26" x="269.15" y="313.49">-1%</text>
<text class="c l" style="fill:#13351c;stroke:#13351c" x="324.10" y="313.49">-7%</text>
<text class="c l" style="fill:#004210;stroke:#004210" x="380.30" y="313.49">-14%</text>
<text class="c" style="fill:#501717;stroke:#501717" x="430.75" y="313.49">67%</text>
<text class="c" style="fill:#501717;stroke:#501717" x="474.60" y="313.49">67%</text>
<text class="c" style="fill:#501717;stroke:#501717" x="519.35" y="313.49">67%</text>
<text class="c" x="564.05" y="313.49">33%</text>
<text class="c" x="604.55" y="313.49">33%</text>
<text class="c" style="fill:#00440e;stroke:#00440e" x="640.60" y="313.49">0%</text>
<text class="n" x="44.15" y="330.56">房地产</text>
<text class="c l" style="fill:#2c2626;stroke:#2c2626" x="106.05" y="330.31">1%</text>
<text class="c l" style="fill:#441c1d;stroke:#441c1d" x="162.10" y="330.31">7%</text>
<text class="c l" style="fill:#342323;stroke:#342323" x="214.15" y="330.31">3%</text>
<text class="c l" style="fill:#252a26;stroke:#252a26" x="269.15" y="330.31">-1%</text>
<text class="c l" style="fill:#1c3021;stroke:#1c3021" x="324.10" y="330.31">-4%</text>
<text class="c l" style="fill:#252a26;stroke:#252a26" x="380.30" y="330.31">-1%</text>
<text class="c" style="fill:#501717;stroke:#501717" x="430.75" y="330.31">67%</text>
<text class="c" style="fill:#501717;stroke:#501717" x="474.60" y="330.31">67%</text>
<text class="c" style="fill:#501717;stroke:#501717" x="519.35" y="330.31">67%</text>
<text class="c" x="564.05" y="330.31">33%</text>
<text class="c" x="604.55" y="330.31">33%</text>
<text class="c" x="640.60" y="330.31">33%</text>
<text class="n" x="44.15" y="347.38">电力设备</text>
<text class="c l" x="106.05" y="347.13">0%</text>
<text class="c l" x="162.10" y="347.13">0%</text>
<text class="c l" style="fill:#193120;stroke:#193120" x="214.15" y="347.13">-5%</text>
<text class="c l" style="fill:#222c24;stroke:#222c24" x="269.15" y="347.13">-2%</text>
<text class="c l" style="fill:#13351c;stroke:#13351c" x="324.10" y="347.13">-7%</text>
<text class="c l" style="fill:#00440e;stroke:#00440e" x="380.30" y="347.13">-15%</text>
<text class="c" style="fill:#501717;stroke:#501717" x="430.75" y="347.13">67%</text>
<text class="c" x="474.60" y="347.13">33%</text>
<text class="c" style="fill:#00440e;stroke:#00440e" x="519.35" y="347.13">0%</text>
<text class="c" x="564.05" y="347.13">33%</text>
<text class="c" x="604.55" y="347.13">33%</text>
<text class="c" x="640.60" y="347.13">33%</text>
<text class="n" x="44.15" y="364.20">建筑装饰</text>
<text class="c l" x="106.05" y="363.95">0%</text>
<text class="c l" style="fill:#252a26;stroke:#252a26" x="162.10" y="363.95">-1%</text>
<text class="c l" style="fill:#222c24;stroke:#222c24" x="214.15" y="363.95">-2%</text>
<text class="c l" style="fill:#16331d;stroke:#16331d" x="269.15" y="363.95">-6%</text>
<text class="c l" style="fill:#0d3919;stroke:#0d3919" x="324.10" y="363.95">-9%</text>
<text class="c l" style="fill:#16331d;stroke:#16331d" x="380.30" y="363.95">-6%</text>
<text class="c" x="430.75" y="363.95">33%</text>
<text class="c" x="474.60" y="363.95">33%</text>
<text class="c" x="519.35" y="363.95">33%</text>
<text class="c" style="fill:#00440e;stroke:#00440e" x="564.05" y="363.95">0%</text>
<text class="c" x="604.55" y="363.95">33%</text>
<text class="c" x="640.60" y="363.95">33%</text>
<text class="n" x="44.15" y="381.02">食品饮料</text>
<text class="c l" x="106.05" y="380.77">0%</text>
<text class="c l" x="162.10" y="380.77">0%</text>
<text class="c l" style="fill:#342323;stroke:#342323" x="214.15" y="380.77">3%</text>
<text class="c l" style="fill:#471b1b;stroke:#471b1b" x="269.15" y="380.77">8%</text>
<text class="c l" style="fill:#3c2020;stroke:#3c2020" x="324.10" y="380.77">5%</text>
<text class="c l" style="fill:#382122;stroke:#382122" x="380.30" y="380.77">4%</text>
<text class="c" x="430.75" y="380.77">33%</text>
<text class="c" x="474.60" y="380.77">33%</text>
<text class="c" style="fill:#501717;stroke:#501717" x="519.35" y="380.77">67%</text>
<text class="c" style="fill:#780607;stroke:#780607" x="564.05" y="380.77">100%</text>
<text class="c" style="fill:#501717;stroke:#501717" x="604.55" y="380.77">67%</text>
<text class="c" style="fill:#501717;stroke:#501717" x="640.60" y="380.77">67%</text>
<text class="n" x="44.15" y="397.84">环保</text>
<text class="c l" x="106.05" y="397.59">0%</text>
<text class="c l" style="fill:#222c24;stroke:#222c24" x="162.10" y="397.59">-2%</text>
<text class="c l" style="fill:#16331d;stroke:#16331d" x="214.15" y="397.59">-6%</text>
<text class="c l" style="fill:#193120;stroke:#193120" x="269.15" y="397.59">-5%</text>
<text class="c l" style="fill:#13351c;stroke:#13351c" x="324.10" y="397.59">-7%</text>
<text class="c l" style="fill:#0d3919;stroke:#0d3919" x="380.30" y="397.59">-9%</text>
<text class="c" style="fill:#501717;stroke:#501717" x="430.75" y="397.59">67%</text>
<text class="c" x="474.60" y="397.59">33%</text>
<text class="c" style="fill:#00440e;stroke:#00440e" x="519.35" y="397.59">0%</text>
<text class="c" style="fill:#00440e;stroke:#00440e" x="564.05" y="397.59">0%</text>
<text class="c" style="fill:#00440e;stroke:#00440e" x="604.55" y="397.59">0%</text>
<text class="c" style="fill:#00440e;stroke:#00440e" x="640.60" y="397.59">0%</text>
<text class="n" x="44.15" y="414.66">家用电器</text>
<text class="c l" x="106.05" y="414.41">0%</text>
<text class="c l" x="162.10" y="414.41">0%</text>
<text class="c l" style="fill:#302525;stroke:#302525" x="214.15" y="414.41">2%</text>
<text class="c l" style="fill:#2c2626;stroke:#2c2626" x="269.15" y="414.41">1%</text>
<text class="c l" style="fill:#222c24;stroke:#222c24" x="324.10" y="414.41">-2%</text>
<text class="c l" style="fill:#401e1e;stroke:#401e1e" x="380.30" y="414.41">6%</text>
<text class="c" x="430.75" y="414.41">33%</text>
<text class="c" x="474.60" y="414.41">33%</text>
<text class="c" x="519.35" y="414.41">33%</text>
<text class="c" style="fill:#501717;stroke:#501717" x="564.05" y="414.41">67%</text>
<text class="c" x="604.55" y="414.41">33%</text>
<text class="c" style="fill:#501717;stroke:#501717" x="640.60" y="414.41">67%</text>
<text class="n" x="44.15" y="431.48">机械设备</text>
<text class="c l" x="106.05" y="431.23">0%</text>
<text class="c l" style="fill:#222c24;stroke:#222c24" x="162.10" y="431.23">-2%</text>
<text class="c l" style="fill:#193120;stroke:#193120" x="214.15" y="431.23">-5%</text>
<text class="c l" style="fill:#1f2d23;stroke:#1f2d23" x="269.15" y="431.23">-3%</text>
<text class="c l" style="fill:#16331d;stroke:#16331d" x="324.10" y="431.23">-6%</text>
<text class="c l" style="fill:#043e13;stroke:#043e13" x="380.30" y="431.23">-12%</text>
<text class="c" x="430.75" y="431.23">33%</text>
<text class="c" x="474.60" y="431.23">33%</text>
<text class="c" style="fill:#00440e;stroke:#00440e" x="519.35" y="431.23">0%</text>
<text class="c" x="564.05" y="431.23">33%</text>
<text class="c" x="604.55" y="431.23">33%</text>
<text class="c" x="640.60" y="431.23">33%</text>
<text class="n" x="44.15" y="448.30">银行</text>
<text class="c l" x="106.05" y="448.05">0%</text>
<text class="c l" style="fill:#3c2020;stroke:#3c2020" x="162.10" y="448.05">5%</text>
<text class="c l" style="fill:#531516;stroke:#531516" x="214.15" y="448.05">11%</text>
<text class="c l" style="fill:#2c2626;stroke:#2c2626" x="269.15" y="448.05">1%</text>
<text class="c l" style="fill:#401e1e;stroke:#401e1e" x="324.10" y="448.05">6%</text>
<text class="c l" style="fill:#780607;stroke:#780607" x="380.30" y="448.05">21%</text>
<text class="c" style="fill:#501717;stroke:#501717" x="430.75" y="448.05">67%</text>
<text class="c" style="fill:#501717;stroke:#501717" x="474.60" y="448.05">67%</text>
<text class="c" style="fill:#780607;stroke:#780607" x="519.35" y="448.05">100%</text>
<text class="c" style="fill:#501717;stroke:#501717" x="564.05" y="448.05">67%</text>
<text class="c" style="fill:#501717;stroke:#501717" x="604.55" y="448.05">67%</text>
<text class="c" style="fill:#780607;stroke:#780607" x="640.60" y="448.05">100%</text>
<text class="n" x="44.15" y="465.12">汽车</text>
<text class="c l" x="106.05" y="464.87">0%</text>
<text class="c l" x="162.10" y="464.87">0%</text>
<text class="c l" style="fill:#401e1e;stroke:#401e1e" x="214.15" y="464.87">6%</text>
<text class="c l" style="fill:#3c2020;stroke:#3c2020" x="269.15" y="464.87">5%</text>
<text class="c l" style="fill:#342323;stroke:#342323" x="324.10" y="464.87">3%</text>
<text class="c l" style="fill:#13351c;stroke:#13351c" x="380.30" y="464.87">-7%</text>
<text class="c" style="fill:#501717;stroke:#501717" x="430.75" y="464.87">67%</text>
<text class="c" x="474.60" y="464.87">33%</text>
<text class="c" style="fill:#501717;stroke:#501717" x="519.35" y="464.87">67%</text>
<text class="c" style="fill:#501717;stroke:#501717" x="564.05" y="464.87">67%</text>
<text class="c" style="fill:#501717;stroke:#501717" x="604.55" y="464.87">67%</text>
<text class="c" x="640.60" y="464.87">33%</text>
<text class="n" x="44.15" y="481.94">有色金属</text>
<text class="c l" x="106.05" y="481.69">0%</text>
<text class="c l" style="fill:#252a26;stroke:#252a26" x="162.10" y="481.69">-1%</text>
<text class="c l" style="fill:#1f2d23;stroke:#1f2d23" x="214.15" y="481.69">-3%</text>
<text class="c l" style="fill:#252a26;stroke:#252a26" x="269.15" y="481.69">-1%</text>
<text class="c l" style="fill:#252a26;stroke:#252a26" x="324.10" y="481.69">-1%</text>
<text class="c l" style="fill:#16331d;stroke:#16331d" x="380.30" y="481.69">-6%</text>
<text class="c" x="430.75" y="481.69">33%</text>
<text class="c" style="fill:#00440e;stroke:#00440e" x="474.60" y="481.69">0%</text>
<text class="c" style="fill:#00440e;stroke:#00440e" x="519.35" y="481.69">0%</text>
<text class="c" x="564.05" y="481.69">33%</text>
<text class="c" x="604.55" y="481.69">33%</text>
<text class="c" x="640.60" y="481.69">33%</text>
<text class="n" x="44.15" y="498.76">电子</text>
<text class="c l" x="106.05" y="498.51">0%</text>
<text class="c l" style="fill:#1f2d23;stroke:#1f2d23" x="162.10" y="498.51">-3%</text>
<text class="c l" style="fill:#16331d;stroke:#16331d" x="214.15" y="498.51">-6%</text>
<text class="c l" style="fill:#193120;stroke:#193120" x="269.15" y="498.51">-5%</text>
<text class="c l" style="fill:#10371b;stroke:#10371b" x="324.10" y="498.51">-8%</text>
<text class="c l" style="fill:#0d3919;stroke:#0d3919" x="380.30" y="498.51">-9%</text>
<text class="c" x="430.75" y="498.51">33%</text>
<text class="c" x="474.60" y="498.51">33%</text>
<text class="c" style="fill:#00440e;stroke:#00440e" x="519.35" y="498.51">0%</text>
<text class="c" style="fill:#00440e;stroke:#00440e" x="564.05" y="498.51">0%</text>
<text class="c" x="604.55" y="498.51">33%</text>
<text class="c" x="640.60" y="498.51">33%</text>
<text class="n" x="44.15" y="515.58">计算机</text>
<text class="c l" x="106.05" y="515.33">0%</text>
<text class="c l" style="fill:#1f2d23;stroke:#1f2d23" x="162.10" y="515.33">-3%</text>
<text class="c l" style="fill:#13351c;stroke:#13351c" x="214.15" y="515.33">-7%</text>
<text class="c l" style="fill:#193120;stroke:#193120" x="269.15" y="515.33">-5%</text>
<text class="c l" style="fill:#1f2d23;stroke:#1f2d23" x="324.10" y="515.33">-3%</text>
<text class="c l" style="fill:#193120;stroke:#193120" x="380.30" y="515.33">-5%</text>
<text class="c" x="430.75" y="515.33">33%</text>
<text class="c" style="fill:#00440e;stroke:#00440e" x="474.60" y="515.33">0%</text>
<text class="c" x="519.35" y="515.33">33%</text>
<text class="c" x="564.05" y="515.33">33%</text>
<text class="c" style="fill:#501717;stroke:#501717" x="604.55" y="515.33">67%</text>
<text class="c" x="640.60" y="515.33">33%</text>
<text class="n" x="44.15" y="532.40">钢铁</text>
<text class="c l" x="106.05" y="532.15">0%</text>
<text class="c l" style="fill:#2c2626;stroke:#2c2626" x="162.10" y="532.15">1%</text>
<text class="c l" style="fill:#302525;stroke:#302525" x="214.15" y="532.15">2%</text>
<text class="c l" x="269.15" y="532.15">0%</text>
<text class="c l" style="fill:#401e1e;stroke:#401e1e" x="324.10" y="532.15">6%</text>
<text class="c l" style="fill:#401e1e;stroke:#401e1e" x="380.30" y="532.15">6%</text>
<text class="c" x="430.75" y="532.15">33%</text>
<text class="c" style="fill:#501717;stroke:#501717" x="474.60" y="532.15">67%</text>
<text class="c" style="fill:#501717;stroke:#501717" x="519.35" y="532.15">67%</text>
<text class="c" x="564.05" y="532.15">33%</text>
<text class="c" x="604.55" y="532.15">33%</text>
<text class="c" x="640.60" y="532.15">33%</text>
<text class="n" x="44.15" y="549.22">美容护理</text>
<text class="c l" style="fill:#252a26;stroke:#252a26" x="106.05" y="548.97">-1%</text>
<text class="c l" x="162.10" y="548.97">0%</text>
<text class="c l" style="fill:#302525;stroke:#302525" x="214.15" y="548.97">2%</text>
<text class="c l" style="fill:#302525;stroke:#302525" x="269.15" y="548.97">2%</text>
<text class="c l" style="fill:#1f2d23;stroke:#1f2d23" x="324.10" y="548.97">-3%</text>
<text class="c l" style="fill:#252a26;stroke:#252a26" x="380.30" y="548.97">-1%</text>
<text class="c" style="fill:#501717;stroke:#501717" x="430.75" y="548.97">67%</text>
<text class="c" style="fill:#501717;stroke:#501717" x="474.60" y="548.97">67%</text>
<text class="c" x="519.35" y="548.97">33%</text>
<text class="c" style="fill:#501717;stroke:#501717" x="564.05" y="548.97">67%</text>
<text class="c" x="604.55" y="548.97">33%</text>
<text class="c" x="640.60" y="548.97">33%</text>
<text class="n" x="44.15" y="566.04">非银金融</text>
<text class="c l" style="fill:#252a26;stroke:#252a26" x="106.05" y="565.79">-1%</text>
<text class="c l" style="fill:#302525;stroke:#302525" x="162.10" y="565.79">2%</text>
<text class="c l" style="fill:#342323;stroke:#342323" x="214.15" y="565.79">3%</text>
<text class="c l" style="fill:#252a26;stroke:#252a26" x="269.15" y="565.79">-1%</text>
<text class="c l" style="fill:#1f2d23;stroke:#1f2d23" x="324.10" y="565.79">-3%</text>
<text class="c l" style="fill:#401e1e;stroke:#401e1e" x="380.30" y="565.79">6%</text>
<text class="c" x="430.75" y="565.79">33%</text>
<text class="c" style="fill:#501717;stroke:#501717" x="474.60" y="565.79">67%</text>
<text class="c" x="519.35" y="565.79">33%</text>
<text class="c" x="564.05" y="565.79">33%</text>
<text class="c" style="fill:#00440e;stroke:#00440e" x="604.55" y="565.79">0%</text>
<text class="c" style="fill:#501717;stroke:#501717" x="640.60" y="565.79">67%</text>
<text class="n" x="44.15" y="582.86">石油石化</text>
<text class="c l" style="fill:#252a26;stroke:#252a26" x="106.05" y="582.61">-1%</text>
<text class="c l" style="fill:#222c24;stroke:#222c24" x="162.10" y="582.61">-2%</text>
<text class="c l" style="fill:#302525;stroke:#302525" x="214.15" y="582.61">2%</text>
<text class="c l" style="fill:#302525;stroke:#302525" x="269.15" y="582.61">2%</text>
<text class="c l" style="fill:#342323;stroke:#342323" x="324.10" y="582.61">3%</text>
<text class="c l" style="fill:#471b1b;stroke:#471b1b" x="380.30" y="582.61">8%</text>
<text class="c" style="fill:#00440e;stroke:#00440e" x="430.75" y="582.61">0%</text>
<text class="c" style="fill:#00440e;stroke:#00440e" x="474.60" y="582.61">0%</text>
<text class="c" x="519.35" y="582.61">33%</text>
<text class="c" style="fill:#501717;stroke:#501717" x="564.05" y="582.61">67%</text>
<text class="c" x="604.55" y="582.61">33%</text>
<text class="c" style="fill:#501717;stroke:#501717" x="640.60" y="582.61">67%</text>
<text class="n" x="44.15" y="599.68">国防军工</text>
<text class="c l" style="fill:#252a26;stroke:#252a26" x="106.05" y="599.43">-1%</text>
<text class="c l" style="fill:#1f2d23;stroke:#1f2d23" x="162.10" y="599.43">-3%</text>
<text class="c l" style="fill:#16331d;stroke:#16331d" x="214.15" y="599.43">-6%</text>
<text class="c l" style="fill:#1f2d23;stroke:#1f2d23" x="269.15" y="599.43">-3%</text>
<text class="c l" style="fill:#014012;stroke:#014012" x="324.10" y="599.43">-13%</text>
<text class="c l" style="fill:#00440e;stroke:#00440e" x="380.30" y="599.43">-15%</text>
<text class="c" x="430.75" y="599.43">33%</text>
<text class="c" style="fill:#00440e;stroke:#00440e" x="474.60" y="599.43">0%</text>
<text class="c" style="fill:#00440e;stroke:#00440e" x="519.35" y="599.43">0%</text>
<text class="c" style="fill:#00440e;stroke:#00440e" x="564.05" y="599.43">0%</text>
<text class="c" style="fill:#00440e;stroke:#00440e" x="604.55" y="599.43">0%</text>
<text class="c" style="fill:#00440e;stroke:#00440e" x="640.60" y="599.43">0%</text>
<text class="s" x="13.4" y="624.2">数据来源：</text>
<text class="s" x="94.2" y="624.2">Wind</text>
<text class="s" x="132.2" y="624.2">，</text>
<text class="s" x="147.2" y="624.2" letter-spacing="0.52">兴业证券经济与金融研究院整理</text>
</svg>
</body></html>
